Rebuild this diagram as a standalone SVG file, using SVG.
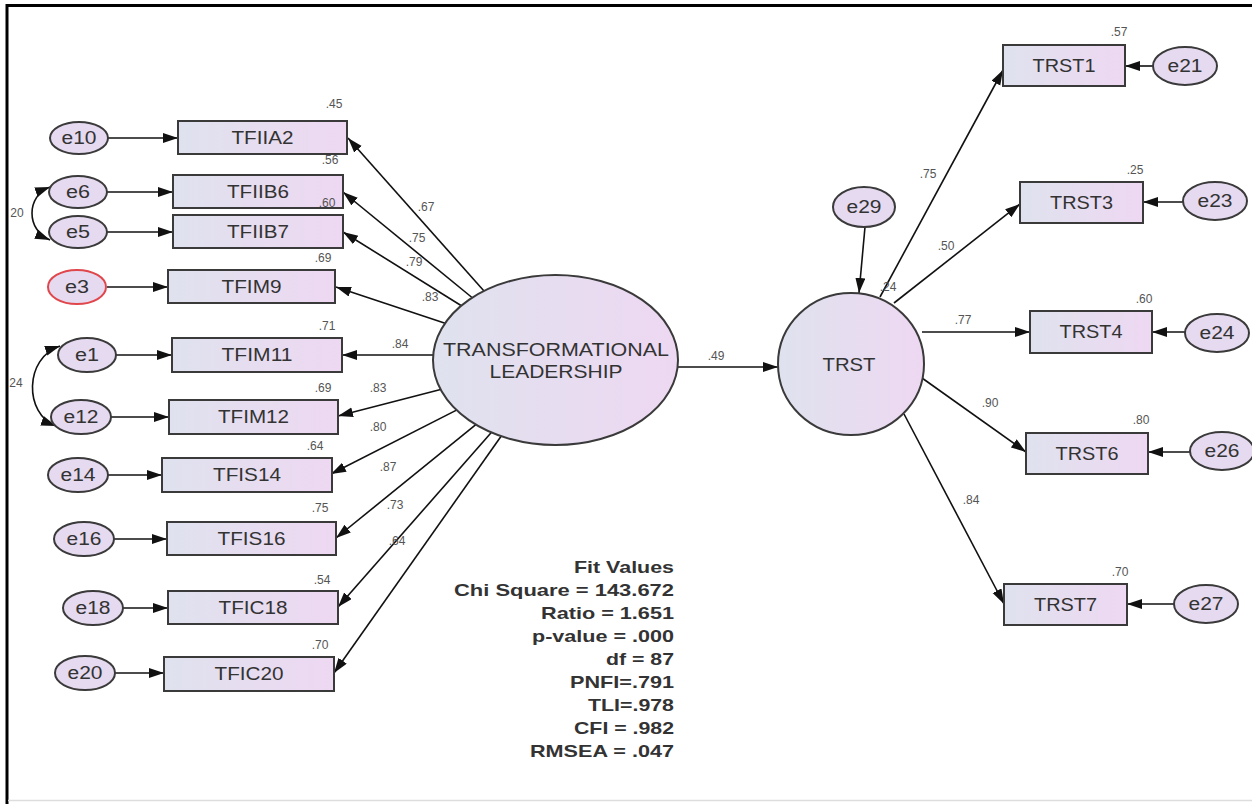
<svg xmlns="http://www.w3.org/2000/svg" width="1252" height="804" viewBox="0 0 1252 804">
<defs>
<linearGradient id="gf" x1="0" y1="0" x2="1" y2="0">
<stop offset="0" stop-color="#dfe2ee"/>
<stop offset="1" stop-color="#eed8f2"/>
</linearGradient>
<marker id="ah" markerUnits="userSpaceOnUse" markerWidth="16" markerHeight="12" refX="15" refY="5" orient="auto">
<path d="M0,0 L15,5 L0,10 z" fill="#111"/>
</marker>
<marker id="as" markerUnits="userSpaceOnUse" markerWidth="16" markerHeight="12" refX="15" refY="5" orient="auto-start-reverse">
<path d="M0,0 L15,5 L0,10 z" fill="#111"/>
</marker>
<style>
.box{fill:url(#gf);stroke:#3a3a3a;stroke-width:2}
.err{fill:#e6daf0;stroke:#3a3a3a;stroke-width:2}
.lat{fill:url(#gf);stroke:#3a3a3a;stroke-width:2}
.lbl{font-family:"Liberation Sans",Arial,sans-serif;font-size:18px;fill:#333;text-anchor:middle;dominant-baseline:central}
.num{font-family:"Liberation Sans",Arial,sans-serif;font-size:12px;fill:#555;text-anchor:middle;dominant-baseline:central}
.fit{font-family:"Liberation Sans",Arial,sans-serif;font-size:17px;font-weight:bold;fill:#333;text-anchor:end}
.ln{stroke:#111;stroke-width:1.6;fill:none;marker-end:url(#ah)}
.cov{stroke:#111;stroke-width:1.6;fill:none;marker-end:url(#ah);marker-start:url(#as)}
</style>
</defs>
<rect x="0" y="0" width="1252" height="804" fill="#fff"/>
<path d="M7,805 L7,5.5 L1252,5.5" fill="none" stroke="#000" stroke-width="3"/>
<line x1="8" y1="800.5" x2="1252" y2="800.5" stroke="#ddd" stroke-width="1.5"/>

<g id="connectors">
<line class="ln" x1="108" y1="138" x2="178" y2="138"/>
<line class="ln" x1="107" y1="192" x2="173" y2="192"/>
<line class="ln" x1="107" y1="232" x2="173" y2="232"/>
<line class="ln" x1="107" y1="287" x2="168" y2="287"/>
<line class="ln" x1="116" y1="355" x2="172" y2="355"/>
<line class="ln" x1="111" y1="417" x2="169" y2="417"/>
<line class="ln" x1="108" y1="475" x2="162" y2="475"/>
<line class="ln" x1="114" y1="539" x2="167" y2="539"/>
<line class="ln" x1="123" y1="608" x2="168" y2="608"/>
<line class="ln" x1="115" y1="673" x2="164" y2="673"/>
<path class="cov" d="M50,187 C26,196 26,230 50,240"/>
<path class="cov" d="M60,346 C24,358 24,414 56,426"/>
<line class="ln" x1="484" y1="291" x2="348" y2="138"/>
<line class="ln" x1="472" y1="297.5" x2="343" y2="192"/>
<line class="ln" x1="461" y1="305.5" x2="343" y2="232"/>
<line class="ln" x1="445.1" y1="323.2" x2="336" y2="287"/>
<line class="ln" x1="433" y1="355" x2="342" y2="355"/>
<line class="ln" x1="440.6" y1="389.5" x2="338" y2="416"/>
<line class="ln" x1="456.5" y1="410.1" x2="331" y2="474"/>
<line class="ln" x1="475.8" y1="424.7" x2="336" y2="538"/>
<line class="ln" x1="491.3" y1="432.5" x2="338" y2="607"/>
<line class="ln" x1="501.1" y1="436.3" x2="334" y2="673"/>
<line class="ln" x1="678" y1="367" x2="778" y2="367"/>
<line class="ln" x1="865" y1="227" x2="859" y2="293"/>
<line class="ln" x1="880" y1="297" x2="1003" y2="70"/>
<line class="ln" x1="894" y1="303" x2="1020" y2="204"/>
<line class="ln" x1="922" y1="332" x2="1030" y2="332"/>
<line class="ln" x1="922" y1="378" x2="1026" y2="452"/>
<line class="ln" x1="904" y1="414" x2="1004" y2="604"/>
<line class="ln" x1="1153" y1="66" x2="1125" y2="66"/>
<line class="ln" x1="1183" y1="202" x2="1143" y2="202"/>
<line class="ln" x1="1185" y1="332" x2="1152" y2="332"/>
<line class="ln" x1="1190" y1="452" x2="1148" y2="452"/>
<line class="ln" x1="1174" y1="604" x2="1127" y2="604"/>
</g>

<g id="labels-paths">
<text class="num" x="17" y="213">20</text>
<text class="num" x="16" y="383">24</text>
<text class="num" x="426" y="207">.67</text>
<text class="num" x="417" y="238">.75</text>
<text class="num" x="414" y="262">.79</text>
<text class="num" x="430" y="297">.83</text>
<text class="num" x="400" y="344">.84</text>
<text class="num" x="378" y="388">.83</text>
<text class="num" x="378" y="427">.80</text>
<text class="num" x="388" y="467">.87</text>
<text class="num" x="395" y="505">.73</text>
<text class="num" x="397" y="541">.64</text>
<text class="num" x="716" y="356">.49</text>
<text class="num" x="928" y="174">.75</text>
<text class="num" x="946" y="246">.50</text>
<text class="num" x="888" y="287">.24</text>
<text class="num" x="963" y="320">.77</text>
<text class="num" x="990" y="403">.90</text>
<text class="num" x="971" y="500">.84</text>
</g>

<g id="TFIIA2"><rect class="box" x="178" y="121" width="169" height="33"/><text class="lbl" x="262.5" y="137.5" textLength="62" lengthAdjust="spacingAndGlyphs">TFIIA2</text><text class="num" x="334" y="104">.45</text></g>
<g id="TFIIB6"><rect class="box" x="173" y="175" width="170" height="33"/><text class="lbl" x="258" y="191.5" textLength="62" lengthAdjust="spacingAndGlyphs">TFIIB6</text><text class="num" x="330" y="160">.56</text></g>
<g id="TFIIB7"><rect class="box" x="173" y="215" width="170" height="33"/><text class="lbl" x="258" y="231.5" textLength="62" lengthAdjust="spacingAndGlyphs">TFIIB7</text><text class="num" x="327" y="203">.60</text></g>
<g id="TFIM9"><rect class="box" x="168" y="270" width="167" height="33"/><text class="lbl" x="251.5" y="286.5" textLength="60" lengthAdjust="spacingAndGlyphs">TFIM9</text><text class="num" x="323" y="258">.69</text></g>
<g id="TFIM11"><rect class="box" x="172" y="338" width="170" height="34"/><text class="lbl" x="257" y="355" textLength="71" lengthAdjust="spacingAndGlyphs">TFIM11</text><text class="num" x="327" y="326">.71</text></g>
<g id="TFIM12"><rect class="box" x="169" y="400" width="169" height="34"/><text class="lbl" x="253.5" y="417" textLength="71" lengthAdjust="spacingAndGlyphs">TFIM12</text><text class="num" x="323" y="388">.69</text></g>
<g id="TFIS14"><rect class="box" x="162" y="458" width="170" height="34"/><text class="lbl" x="247" y="475" textLength="68" lengthAdjust="spacingAndGlyphs">TFIS14</text><text class="num" x="315" y="446">.64</text></g>
<g id="TFIS16"><rect class="box" x="167" y="522" width="169" height="33"/><text class="lbl" x="251.5" y="538.5" textLength="68" lengthAdjust="spacingAndGlyphs">TFIS16</text><text class="num" x="320" y="508">.75</text></g>
<g id="TFIC18"><rect class="box" x="168" y="591" width="170" height="33"/><text class="lbl" x="253" y="607.5" textLength="69" lengthAdjust="spacingAndGlyphs">TFIC18</text><text class="num" x="322" y="580">.54</text></g>
<g id="TFIC20"><rect class="box" x="164" y="657" width="170" height="34"/><text class="lbl" x="249" y="674" textLength="69" lengthAdjust="spacingAndGlyphs">TFIC20</text><text class="num" x="320" y="645">.70</text></g>

<g id="e10"><ellipse class="err" cx="79" cy="138" rx="29" ry="16"/><text class="lbl" x="79" y="138" textLength="35" lengthAdjust="spacingAndGlyphs">e10</text></g>
<g id="e6"><ellipse class="err" cx="78" cy="192" rx="29" ry="16"/><text class="lbl" x="78" y="192" textLength="24" lengthAdjust="spacingAndGlyphs">e6</text></g>
<g id="e5"><ellipse class="err" cx="78" cy="232" rx="29" ry="16"/><text class="lbl" x="78" y="232" textLength="24" lengthAdjust="spacingAndGlyphs">e5</text></g>
<g id="e3"><ellipse class="err" cx="77" cy="287" rx="29" ry="17" style="stroke:#e0474c"/><text class="lbl" x="77" y="287" textLength="24" lengthAdjust="spacingAndGlyphs">e3</text></g>
<g id="e1"><ellipse class="err" cx="87" cy="355" rx="29" ry="17"/><text class="lbl" x="87" y="355" textLength="24" lengthAdjust="spacingAndGlyphs">e1</text></g>
<g id="e12"><ellipse class="err" cx="81" cy="417" rx="30" ry="17"/><text class="lbl" x="81" y="417" textLength="35" lengthAdjust="spacingAndGlyphs">e12</text></g>
<g id="e14"><ellipse class="err" cx="78" cy="475" rx="30" ry="17"/><text class="lbl" x="78" y="475" textLength="35" lengthAdjust="spacingAndGlyphs">e14</text></g>
<g id="e16"><ellipse class="err" cx="84" cy="539" rx="30" ry="17"/><text class="lbl" x="84" y="539" textLength="35" lengthAdjust="spacingAndGlyphs">e16</text></g>
<g id="e18"><ellipse class="err" cx="93" cy="608" rx="30" ry="17"/><text class="lbl" x="93" y="608" textLength="35" lengthAdjust="spacingAndGlyphs">e18</text></g>
<g id="e20"><ellipse class="err" cx="85" cy="673" rx="30" ry="17"/><text class="lbl" x="85" y="673" textLength="35" lengthAdjust="spacingAndGlyphs">e20</text></g>

<g id="TL"><ellipse class="lat" cx="555.5" cy="360" rx="122.5" ry="85"/><text class="lbl" x="556" y="350" textLength="226" lengthAdjust="spacingAndGlyphs">TRANSFORMATIONAL</text><text class="lbl" x="556" y="372" textLength="133" lengthAdjust="spacingAndGlyphs">LEADERSHIP</text></g>
<g id="TRST"><ellipse class="lat" cx="851" cy="364" rx="73" ry="71"/><text class="lbl" x="849" y="365" textLength="53" lengthAdjust="spacingAndGlyphs">TRST</text></g>
<g id="e29"><ellipse class="err" cx="864" cy="207" rx="31" ry="20"/><text class="lbl" x="864" y="207" textLength="35" lengthAdjust="spacingAndGlyphs">e29</text></g>

<g id="TRST1"><rect class="box" x="1003" y="45" width="122" height="41"/><text class="lbl" x="1064" y="65.5" textLength="63" lengthAdjust="spacingAndGlyphs">TRST1</text><text class="num" x="1119" y="32">.57</text></g>
<g id="TRST3"><rect class="box" x="1020" y="182" width="123" height="41"/><text class="lbl" x="1081.5" y="202.5" textLength="63" lengthAdjust="spacingAndGlyphs">TRST3</text><text class="num" x="1135" y="170">.25</text></g>
<g id="TRST4"><rect class="box" x="1030" y="311" width="122" height="42"/><text class="lbl" x="1091" y="332" textLength="63" lengthAdjust="spacingAndGlyphs">TRST4</text><text class="num" x="1144" y="299">.60</text></g>
<g id="TRST6"><rect class="box" x="1026" y="433" width="122" height="41"/><text class="lbl" x="1087" y="453.5" textLength="63" lengthAdjust="spacingAndGlyphs">TRST6</text><text class="num" x="1141" y="420">.80</text></g>
<g id="TRST7"><rect class="box" x="1004" y="584" width="123" height="41"/><text class="lbl" x="1065.5" y="604.5" textLength="63" lengthAdjust="spacingAndGlyphs">TRST7</text><text class="num" x="1120" y="572">.70</text></g>

<g id="e21"><ellipse class="err" cx="1185" cy="66" rx="32" ry="19"/><text class="lbl" x="1185" y="66" textLength="35" lengthAdjust="spacingAndGlyphs">e21</text></g>
<g id="e23"><ellipse class="err" cx="1215" cy="201" rx="32" ry="19"/><text class="lbl" x="1215" y="201" textLength="35" lengthAdjust="spacingAndGlyphs">e23</text></g>
<g id="e24"><ellipse class="err" cx="1217" cy="333" rx="32" ry="19"/><text class="lbl" x="1217" y="333" textLength="35" lengthAdjust="spacingAndGlyphs">e24</text></g>
<g id="e26"><ellipse class="err" cx="1222" cy="451" rx="32" ry="19"/><text class="lbl" x="1222" y="451" textLength="35" lengthAdjust="spacingAndGlyphs">e26</text></g>
<g id="e27"><ellipse class="err" cx="1206" cy="604" rx="32" ry="19"/><text class="lbl" x="1206" y="604" textLength="35" lengthAdjust="spacingAndGlyphs">e27</text></g>

<g id="fit-values">
<text class="fit" x="674" y="573" textLength="100" lengthAdjust="spacingAndGlyphs">Fit Values</text>
<text class="fit" x="674" y="596" textLength="220" lengthAdjust="spacingAndGlyphs">Chi Square = 143.672</text>
<text class="fit" x="674" y="619" textLength="133" lengthAdjust="spacingAndGlyphs">Ratio = 1.651</text>
<text class="fit" x="674" y="642" textLength="142" lengthAdjust="spacingAndGlyphs">p-value = .000</text>
<text class="fit" x="674" y="665" textLength="68" lengthAdjust="spacingAndGlyphs">df = 87</text>
<text class="fit" x="674" y="688" textLength="104" lengthAdjust="spacingAndGlyphs">PNFI=.791</text>
<text class="fit" x="674" y="711" textLength="86" lengthAdjust="spacingAndGlyphs">TLI=.978</text>
<text class="fit" x="674" y="734" textLength="100" lengthAdjust="spacingAndGlyphs">CFI = .982</text>
<text class="fit" x="674" y="757" textLength="144" lengthAdjust="spacingAndGlyphs">RMSEA = .047</text>
</g>
</svg>
